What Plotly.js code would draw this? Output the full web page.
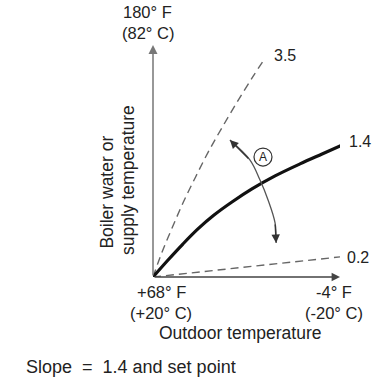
<!DOCTYPE html>
<html>
<head>
<meta charset="utf-8">
<script src="https://cdn.plot.ly/plotly-3.0.1.min.js"></script>
<style>html,body{margin:0;padding:0;background:#fff;}#chart{width:385px;height:390px;}</style>
</head>
<body>
<div id="chart"></div>
<script>
// Outdoor temperature (°F) and supply temperature (°F)
const outdoor35 = [68, 64.5, 60.5, 56.3, 51.6, 46.7, 41.3, 35.6, 29.6, 25.3];
const supply35  = [68, 80.1, 92.1, 104.2, 116.3, 128.4, 140.4, 152.5, 164.6, 172.8];
const outdoor14 = [68, 62.2, 56.5, 50.7, 44.5, 37.6, 29.9, 21.0, 11.4, 2.9, -4.8];
const supply14  = [68, 76.2, 83.9, 91.2, 97.9, 104.2, 110.5, 116.8, 122.6, 127.4, 131.7];
const outdoor02 = [68, -4];
const supply02  = [68, 77.7];
const arcX = [38.4, 30.7, 26.8, 23.7, 21.0, 20.6];
const arcY = [134.1, 124.5, 114.8, 105.2, 94.1, 84.4];
const curveLabels = ["3.5", "1.4", "0.2"];
const xTickLabels = ["+68° F", "(+20° C)", "-4° F", "(-20° C)"];
const yTickLabels = ["180° F", "(82° C)"];
const xRange = [68, -4];
const yRange = [68, 180];

const FAM = "Liberation Sans, Arial, sans-serif";
const FONT = {family: FAM, size: 17.5, color: "#222"};
const SFONT = {family: FAM, size: 18, color: "#222"};
const TFONT = {family: FAM, size: 16.5, color: "#222"};
const LFONT = {family: FAM, size: 16, color: "#222"};
const dashGray = "#666";

const traces = [
  {x: outdoor35, y: supply35, mode: "lines", line: {color: dashGray, width: 1.4, dash: "8px,5px", shape: "spline", smoothing: 1}, hoverinfo: "skip"},
  {x: outdoor02, y: supply02, mode: "lines", line: {color: dashGray, width: 1.4, dash: "8px,5px"}, hoverinfo: "skip"},
  {x: outdoor14, y: supply14, mode: "lines", line: {color: "#111", width: 3.2, shape: "spline", smoothing: 1}, hoverinfo: "skip"},
  {x: arcX, y: arcY, mode: "lines", line: {color: "#555", width: 1.3, shape: "spline"}, hoverinfo: "skip"}
];

const n = arcX.length;
function lab(x, y, text, font, extra) {
  return Object.assign({x: x, y: y, xref: "paper", yref: "paper", text: text, showarrow: false,
    xanchor: "center", yanchor: "middle", font: font}, extra || {});
}
const annotations = [
  // axes arrows
  {x: xRange[1], y: yRange[0], ax: xRange[0], ay: yRange[0], xref: "x", yref: "y", axref: "x", ayref: "y",
   text: "", showarrow: true, arrowhead: 2, arrowsize: 1.2, arrowwidth: 1.4, arrowcolor: "#444", standoff: 0},
  {x: xRange[0], y: yRange[1], ax: xRange[0], ay: yRange[0], xref: "x", yref: "y", axref: "x", ayref: "y",
   text: "", showarrow: true, arrowhead: 2, arrowsize: 1.2, arrowwidth: 1.5, arrowcolor: "#777", standoff: 0},
  // arc arrowheads
  {x: arcX[0], y: arcY[0], ax: arcX[1], ay: arcY[1], xref: "x", yref: "y", axref: "x", ayref: "y",
   text: "", showarrow: true, arrowhead: 2, arrowsize: 1.3, arrowwidth: 1.3, arrowcolor: "#333", standoff: 0},
  {x: arcX[n-1], y: arcY[n-1], ax: arcX[n-2], ay: arcY[n-2], xref: "x", yref: "y", axref: "x", ayref: "y",
   text: "", showarrow: true, arrowhead: 2, arrowsize: 1.3, arrowwidth: 1.3, arrowcolor: "#333", standoff: 0},
  // circled A
  {x: 25.65, y: 125.9, xref: "x", yref: "y", text: "A", showarrow: false, xanchor: "center", yanchor: "middle",
   font: {family: FAM, size: 12, color: "#222"}},
  // curve labels
  lab(0.636, 0.953, curveLabels[0], LFONT, {xanchor: "left"}),
  lab(1.037, 0.582, curveLabels[1], LFONT, {xanchor: "left"}),
  lab(1.027, 0.086, curveLabels[2], LFONT, {xanchor: "left"}),
  // y top labels
  lab(-0.027, 1.142, yTickLabels[0], TFONT),
  lab(-0.027, 1.052, yTickLabels[1], TFONT),
  // x labels
  lab(0.043, -0.065, xTickLabels[0], TFONT),
  lab(0.043, -0.155, xTickLabels[1], TFONT),
  lab(0.968, -0.065, xTickLabels[2], TFONT),
  lab(0.968, -0.155, xTickLabels[3], TFONT),
  lab(0.465, -0.241, "Outdoor temperature", FONT),
  lab(-0.251, 0.364, "Boiler water or", FONT, {textangle: -90}),
  lab(-0.134, 0.418, "supply temperature", FONT, {textangle: -90}),
  lab(-0.690, -0.388, "Slope\u00a0 = \u00a01.4 and set point", SFONT, {xanchor: "left"})
];

const layout = {
  width: 385, height: 390,
  margin: {l: 153, r: 45, t: 45, b: 113},
  paper_bgcolor: "#fff", plot_bgcolor: "#fff",
  showlegend: false,
  xaxis: {range: xRange, showgrid: false, zeroline: false, showline: false, showticklabels: false, ticks: "", fixedrange: true},
  yaxis: {range: yRange, showgrid: false, zeroline: false, showline: false, showticklabels: false, ticks: "", fixedrange: true},
  shapes: [
    {type: "circle", xref: "x", yref: "y", xsizemode: "pixel", ysizemode: "pixel", xanchor: 25.65, yanchor: 125.9,
     x0: -9, x1: 9, y0: -9, y1: 9, line: {color: "#333", width: 1.2}}
  ],
  annotations: annotations
};

Plotly.newPlot("chart", traces, layout, {staticPlot: true, displayModeBar: false});
</script>
</body>
</html>
